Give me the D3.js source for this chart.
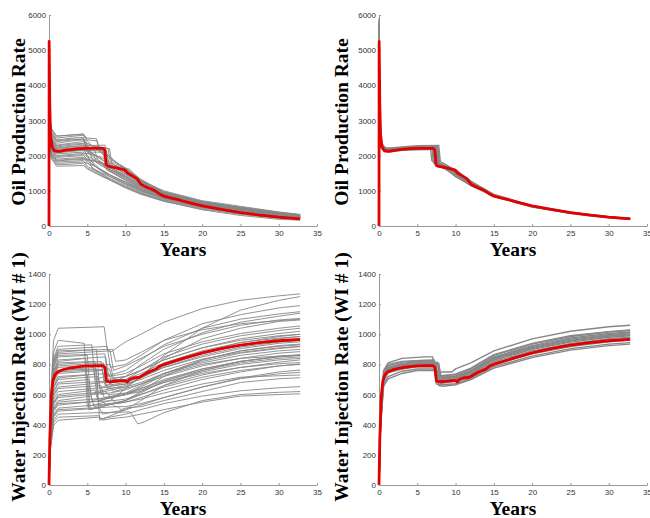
<!DOCTYPE html>
<html>
<head>
<meta charset="utf-8">
<script src="https://cdn.jsdelivr.net/npm/d3@7"></script>
<style>
    body { margin: 0; background: #fff; }
    svg { display: block; }
    .tick text { font-family: Arial, "Liberation Sans", sans-serif; font-size: 8px; fill: #333; }
    .domain, .tick line { stroke: #999; }
    .lab { font-family: "Liberation Serif", "Times New Roman", serif; font-weight: bold; font-size: 19.5px; fill: #000; }
</style>
</head>
<body>
<div id="chart-div"></div>
<script>
//---------------------------------//
// Data                            //
//---------------------------------//

const xTicks = [0, 5, 10, 15, 20, 25, 30, 35];
const oilTicks = [0, 1000, 2000, 3000, 4000, 5000, 6000];
const wiTicks = [0, 200, 400, 600, 800, 1000, 1200, 1400];

const xLabel = 'Years';
const oilLabel = 'Oil Production Rate';
const wiLabel = 'Water Injection Rate (WI # 1)';

// red reference curves [year, rate]
const oilRef = [[0,0],[0.02,5250],[0.1,3500],[0.2,2600],[0.4,2250],[0.7,2140],[1.3,2120],[2,2150],[3,2180],[4,2200],[5,2210],[7.1,2210],[7.3,2150],[7.45,1750],[7.7,1700],[8.5,1670],[9.5,1620],[9.9,1590],[10.3,1500],[11,1410],[11.5,1340],[12,1190],[12.5,1130],[13,1080],[13.5,1040],[14,980],[14.5,900],[15,850],[16,790],[17,740],[18,680],[20,570],[22.5,470],[25,380],[27.5,310],[30,250],[32.8,205]];

const wiRef = [[0,0],[0.1,300],[0.3,590],[0.5,690],[0.8,735],[1.2,752],[2,768],[3,778],[4,785],[5,790],[7,792],[7.3,780],[7.5,690],[8,685],[9,690],[10,692],[10.2,684],[10.5,700],[11,710],[11.8,715],[12.3,730],[13,750],[14,770],[14.5,790],[15,800],[17.5,840],[20,877],[22.5,905],[25,928],[27.5,945],[30,957],[32.8,966]];

// grey ensemble runs, before matching (left)
const oilPrior = [
    [[0,5100],[0.1,3000],[0.35,2750],[1,2550],[3,2590],[4.5,2620],[5,2450],[6.3,2420],[6.6,2150],[8,1900],[10,1650],[12,1300],[15,1000],[20,720],[25,560],[30,400],[32.8,330]],
    [[0,5100],[0.1,3000],[0.35,2700],[1,2500],[3,2550],[4.5,2580],[5,2500],[6.2,2480],[6.5,2200],[7.5,2050],[10,1600],[12,1280],[15,980],[20,700],[25,540],[30,390],[32.8,320]],
    [[0,5100],[0.1,2950],[0.35,2650],[1,2450],[3,2500],[4.5,2520],[4.8,2200],[6,2000],[7.5,1800],[10,1500],[12,1250],[15,950],[20,680],[25,520],[30,380],[32.8,310]],
    [[0,5100],[0.1,2900],[0.35,2600],[1,2400],[3,2450],[4.5,2480],[5,2300],[7.7,2200],[8,1850],[10,1620],[12,1300],[15,960],[20,690],[25,520],[30,370],[32.8,305]],
    [[0,5100],[0.1,2900],[0.35,2550],[1,2350],[3,2420],[4.5,2450],[5,2150],[7,1900],[8,1650],[10,1400],[12,1150],[15,900],[20,640],[25,480],[30,350],[32.8,290]],
    [[0,5100],[0.1,2850],[0.35,2500],[1,2300],[3,2360],[4.5,2400],[5.5,2300],[7.9,2200],[8.2,1780],[10,1550],[12,1250],[15,930],[20,660],[25,500],[30,360],[32.8,300]],
    [[0,5100],[0.1,2850],[0.35,2450],[1,2250],[3,2300],[4.5,2330],[5,2100],[6.5,1850],[8,1600],[10,1350],[12,1100],[15,850],[20,600],[25,440],[30,320],[32.8,270]],
    [[0,5100],[0.1,2800],[0.35,2400],[1,2200],[3,2250],[4.5,2280],[5.2,2250],[5.6,1900],[7,1700],[10,1300],[12,1080],[15,830],[20,590],[25,430],[30,310],[32.8,260]],
    [[0,5100],[0.1,2800],[0.35,2380],[1,2180],[3,2220],[4.5,2250],[6.8,2230],[7.2,1950],[8,1750],[10,1480],[12,1200],[15,900],[20,630],[25,470],[30,340],[32.8,280]],
    [[0,5100],[0.1,2750],[0.35,2350],[1,2150],[3,2180],[4.5,2200],[5,2000],[7,1750],[8,1550],[10,1330],[12,1100],[15,840],[20,600],[25,440],[30,320],[32.8,265]],
    [[0,5100],[0.1,2700],[0.35,2300],[1,2100],[3,2140],[4.5,2170],[5,2000],[6,1700],[8,1450],[10,1250],[12,1030],[15,800],[20,570],[25,410],[30,300],[32.8,250]],
    [[0,5100],[0.1,2700],[0.35,2280],[1,2080],[3,2120],[4.5,2150],[7.5,2150],[7.8,1800],[9.5,1650],[10.5,1620],[12,1300],[15,920],[20,650],[25,480],[30,350],[32.8,290]],
    [[0,5100],[0.1,2650],[0.35,2250],[1,2050],[3,2080],[4.5,2100],[5,1950],[6.5,1650],[8,1450],[10,1200],[12,1000],[15,780],[20,550],[25,400],[30,290],[32.8,240]],
    [[0,5100],[0.1,2600],[0.35,2200],[1,2000],[3,2040],[4.5,2060],[5.8,2050],[6.2,1800],[8,1600],[10,1380],[12,1120],[15,860],[20,610],[25,450],[30,330],[32.8,270]],
    [[0,5100],[0.1,2600],[0.35,2180],[1,1980],[3,2010],[4.5,2030],[5,1850],[7,1550],[8,1400],[10,1180],[12,980],[15,760],[20,540],[25,390],[30,280],[32.8,230]],
    [[0,5100],[0.1,2550],[0.35,2150],[1,1950],[3,1980],[4.5,2000],[5,1900],[7.5,1750],[8,1600],[10,1400],[12,1150],[15,870],[20,620],[25,460],[30,335],[32.8,275]],
    [[0,5100],[0.1,2500],[0.35,2100],[1,1900],[3,1930],[4.5,1950],[5,1800],[6,1600],[8,1350],[10,1150],[12,950],[15,740],[20,520],[25,370],[30,260],[32.8,215]],
    [[0,5100],[0.1,2500],[0.35,2070],[1,1870],[3,1900],[4.5,1920],[5.3,1880],[5.6,1650],[7,1500],[10,1220],[12,1010],[15,790],[20,560],[25,410],[30,300],[32.8,245]],
    [[0,5100],[0.1,2450],[0.35,2020],[1,1820],[3,1840],[4.5,1860],[5,1700],[7,1450],[8,1320],[10,1100],[12,920],[15,720],[20,500],[25,350],[30,240],[32.8,200]],
    [[0,5100],[0.1,2400],[0.35,1980],[1,1780],[3,1800],[4.5,1820],[5,1780],[6,1700],[7,1550],[8,1450],[10,1250],[12,1050],[15,800],[20,570],[25,420],[30,305],[32.8,250]],
    [[0,5100],[0.1,2400],[0.35,1940],[1,1740],[3,1760],[4.5,1780],[5,1650],[7,1420],[8,1300],[10,1080],[12,900],[15,700],[20,480],[25,330],[30,220],[32.8,180]],
    [[0,5100],[0.1,2350],[0.35,1900],[1,1700],[3,1710],[4.5,1720],[5,1620],[7,1400],[10,1120],[12,930],[15,710],[20,460],[25,300],[30,190],[32.8,165]],
    [[0,5100],[0.1,2850],[0.35,2480],[1,2280],[3,2330],[4.7,2350],[5,2100],[7.5,2100],[7.7,1700],[10,1450],[12,1180],[15,880],[20,620],[25,460],[30,335],[32.8,280]],
    [[0,5100],[0.1,2950],[0.35,2620],[1,2420],[3,2470],[4.8,2450],[5.2,2050],[7,1950],[8,1700],[10,1500],[12,1200],[15,920],[20,650],[25,490],[30,360],[32.8,300]],
    [[0,5100],[0.1,2800],[0.35,2420],[1,2220],[3,2270],[7.3,2300],[7.5,2050],[8.8,1800],[10,1650],[12,1330],[15,950],[20,680],[25,510],[30,370],[32.8,310]],
    [[0,5100],[0.1,2700],[0.35,2320],[1,2120],[3,2160],[6,2150],[6.3,1900],[8,1650],[10,1420],[12,1150],[15,860],[20,610],[25,450],[30,325],[32.8,270]],
    [[0,5100],[0.1,3050],[0.35,2760],[1,2560],[3,2590],[4.5,2600],[4.7,2500],[5.5,2300],[7,2050],[8,1800],[10,1550],[12,1250],[15,950],[20,680],[25,520],[30,380],[32.8,320]],
    [[0,5100],[0.1,2450],[0.35,2050],[1,1850],[3,1880],[4.5,1890],[7,1800],[7.5,1600],[10,1300],[12,1050],[15,810],[20,575],[25,420],[30,300],[32.8,245]]
];

// grey ensemble runs, after matching (right)
const oilPost = [
    [[0,5900],[0.1,3200],[0.3,2350],[0.8,2220],[1.5,2190],[3,2230],[5,2260],[6.9,2280],[7.1,1810],[8,1720],[10,1500],[12,1200],[13.5,1050],[15,880],[20,560],[25,380],[30,250],[32.8,205]],
    [[0,5600],[0.1,3100],[0.3,2300],[0.8,2180],[1.5,2160],[3,2200],[5,2230],[7.5,2240],[7.7,1800],[8.5,1710],[10,1610],[11,1430],[12,1280],[15,880],[20,570],[25,390],[30,260],[32.8,215]],
    [[0,5400],[0.1,3000],[0.3,2250],[0.8,2150],[1.5,2130],[3,2170],[5,2190],[7,2200],[7.2,1780],[8,1700],[10,1450],[12,1180],[15,860],[20,545],[25,370],[30,245],[32.8,200]],
    [[0,5700],[0.1,3150],[0.3,2350],[0.8,2230],[1.5,2220],[3,2250],[5,2280],[7.8,2290],[8,1830],[9,1710],[10,1560],[12,1260],[15,900],[20,580],[25,395],[30,262],[32.8,218]],
    [[0,5300],[0.1,2950],[0.3,2200],[0.8,2120],[1.5,2110],[3,2150],[5,2170],[7.2,2180],[7.4,1700],[8.5,1650],[10,1420],[12,1150],[15,845],[20,540],[25,360],[30,235],[32.8,190]],
    [[0,5800],[0.1,3100],[0.3,2300],[0.8,2200],[1.5,2190],[3,2220],[5,2250],[6.7,2250],[6.9,1860],[8,1740],[10,1520],[12,1220],[15,880],[20,565],[25,385],[30,255],[32.8,210]],
    [[0,5500],[0.1,3000],[0.3,2270],[0.8,2190],[1.5,2170],[3,2230],[5,2260],[7.6,2270],[7.8,1760],[9,1660],[10,1480],[12,1200],[15,870],[20,555],[25,378],[30,248],[32.8,205]],
    [[0,5200],[0.1,2950],[0.3,2230],[0.8,2150],[1.5,2140],[3,2180],[5,2210],[7.4,2220],[7.6,1740],[8.5,1680],[10,1400],[12,1170],[15,855],[20,550],[25,375],[30,245],[32.8,200]],
    [[0,5600],[0.1,3050],[0.3,2280],[0.8,2200],[1.5,2180],[3,2210],[5,2230],[7,2230],[7.2,1800],[8,1720],[10,1550],[12,1250],[15,890],[20,570],[25,388],[30,258],[32.8,212]],
    [[0,5300],[0.1,2950],[0.3,2220],[0.8,2140],[1.5,2130],[3,2190],[5,2200],[7.7,2210],[7.9,1790],[9,1690],[10,1580],[12,1230],[15,870],[20,560],[25,380],[30,250],[32.8,207]]
];

const wiPrior = [
    [[0,0],[0.2,570],[0.6,960],[1.2,1040],[7.2,1050],[7.6,900],[8,880],[10,950],[12,1000],[15,1080],[20,1170],[25,1225],[30,1255],[32.8,1268]],
    [[0,0],[0.2,530],[0.6,880],[1.2,960],[4.6,940],[5,520],[8,560],[10,640],[12,720],[15,860],[20,1040],[25,1160],[30,1225],[32.8,1250]],
    [[0,0],[0.2,500],[0.6,830],[1.2,900],[7.6,920],[8,780],[10,800],[12,860],[15,960],[20,1070],[25,1130],[30,1175],[32.8,1190]],
    [[0,0],[0.2,480],[0.6,810],[1.2,880],[6.2,900],[6.6,640],[10,720],[12,800],[15,900],[20,1010],[25,1080],[30,1120],[32.8,1140]],
    [[0,0],[0.2,480],[0.6,800],[1.2,870],[8,890],[8.4,760],[10,790],[12,840],[15,920],[20,1000],[25,1060],[30,1095],[32.8,1105]],
    [[0,0],[0.2,470],[0.6,780],[1.2,850],[5,860],[5.4,600],[10,650],[12,720],[15,840],[20,970],[25,1040],[30,1085],[32.8,1095]],
    [[0,0],[0.2,460],[0.6,760],[1.2,830],[7.4,850],[7.8,720],[10,740],[12,790],[15,870],[20,950],[25,1005],[30,1040],[32.8,1055]],
    [[0,0],[0.2,440],[0.6,740],[1.2,800],[6.8,820],[7.2,680],[10,700],[12,760],[15,850],[20,935],[25,990],[30,1025],[32.8,1040]],
    [[0,0],[0.2,430],[0.6,720],[1.2,780],[8,800],[8.4,710],[10,720],[12,760],[15,830],[20,910],[25,970],[30,1005],[32.8,1020]],
    [[0,0],[0.2,420],[0.6,700],[1.2,760],[5.8,780],[6.2,620],[10,660],[12,710],[15,790],[20,880],[25,945],[30,985],[32.8,1000]],
    [[0,0],[0.2,410],[0.6,680],[1.2,740],[7,760],[7.4,660],[10,680],[12,720],[15,790],[20,870],[25,930],[30,970],[32.8,985]],
    [[0,0],[0.2,400],[0.6,660],[1.2,720],[7.8,740],[8.2,680],[10,690],[12,720],[15,780],[20,850],[25,905],[30,940],[32.8,950]],
    [[0,0],[0.2,385],[0.6,645],[1.2,700],[6.4,720],[6.8,600],[10,630],[12,670],[15,740],[20,830],[25,890],[30,925],[32.8,935]],
    [[0,0],[0.2,375],[0.6,625],[1.2,680],[5.2,700],[5.6,560],[10,610],[12,660],[15,740],[20,820],[25,875],[30,905],[32.8,918]],
    [[0,0],[0.2,360],[0.6,600],[1.2,650],[7.2,680],[7.6,640],[10,650],[12,680],[15,740],[20,810],[25,860],[30,890],[32.8,900]],
    [[0,0],[0.2,340],[0.6,570],[1.2,620],[8,650],[8.4,620],[10,640],[12,670],[15,720],[20,790],[25,840],[30,875],[32.8,885]],
    [[0,0],[0.2,330],[0.6,550],[1.2,600],[6,630],[6.4,560],[10,600],[12,640],[15,700],[20,770],[25,820],[30,852],[32.8,862]],
    [[0,0],[0.2,320],[0.6,535],[1.2,580],[7.6,610],[8,580],[10,600],[12,620],[15,680],[20,750],[25,800],[30,830],[32.8,840]],
    [[0,0],[0.2,310],[0.6,515],[1.2,560],[5.5,590],[5.9,520],[10,560],[12,600],[15,660],[20,730],[25,780],[30,815],[32.8,830]],
    [[0,0],[0.2,290],[0.6,490],[1.2,530],[7,560],[7.4,530],[10,550],[12,580],[15,630],[20,700],[25,750],[30,790],[32.8,803]],
    [[0,0],[0.2,280],[0.6,470],[1.2,510],[8.2,540],[8.6,520],[10,520],[12,540],[15,580],[20,650],[25,710],[30,750],[32.8,763]],
    [[0,0],[0.2,270],[0.6,450],[1.2,490],[6.6,510],[7,470],[10,500],[12,530],[15,580],[20,650],[25,705],[30,738],[32.8,748]],
    [[0,0],[0.2,260],[0.6,430],[1.2,470],[5,478],[10.6,485],[11.6,405],[12.5,420],[15,480],[20,560],[25,600],[30,615],[32.8,620]],
    [[0,0],[0.2,250],[0.6,415],[1.2,450],[6.5,460],[7,430],[8,440],[10,450],[12,470],[15,500],[20,550],[25,590],[30,600],[32.8,605]],
    [[0,0],[0.2,235],[0.6,395],[1.2,430],[6.5,450],[6.9,440],[10,470],[12,500],[15,540],[20,590],[25,625],[30,645],[32.8,653]],
    [[0,0],[0.2,450],[0.6,755],[1.2,820],[4.8,840],[5.2,500],[10,560],[12,620],[15,720],[20,830],[25,890],[30,920],[32.8,930]],
    [[0,0],[0.2,420],[0.6,700],[1.2,760],[6.2,770],[6.6,430],[10,500],[12,560],[15,660],[20,760],[25,820],[30,855],[32.8,865]],
    [[0,0],[0.2,490],[0.6,820],[1.2,890],[8.3,900],[8.7,820],[10,830],[12,880],[15,960],[20,1030],[25,1070],[30,1090],[32.8,1100]],
    [[0,0],[0.2,470],[0.6,790],[1.2,860],[7.3,870],[7.7,700],[10,720],[12,760],[15,830],[20,910],[25,960],[30,990],[32.8,1000]],
    [[0,0],[0.2,390],[0.6,655],[1.2,710],[5,730],[5.4,500],[10,560],[12,610],[15,690],[20,770],[25,820],[30,850],[32.8,860]],
    [[0,0],[0.2,410],[0.6,690],[1.2,750],[7.9,770],[8.3,700],[10,700],[12,740],[15,810],[20,890],[25,945],[30,975],[32.8,985]],
    [[0,0],[0.2,350],[0.6,590],[1.2,640],[6.8,660],[7.2,580],[10,600],[12,630],[15,680],[20,740],[25,780],[30,805],[32.8,812]],
    [[0,0],[0.2,325],[0.6,545],[1.2,590],[7.4,620],[7.8,600],[10,610],[12,640],[15,690],[20,760],[25,810],[30,840],[32.8,850]],
    [[0,0],[0.2,300],[0.6,505],[1.2,550],[8,580],[8.4,560],[10,570],[12,600],[15,650],[20,715],[25,760],[30,790],[32.8,800]],
    [[0,0],[0.2,435],[0.6,725],[1.2,790],[7.1,810],[7.5,650],[10,670],[12,710],[15,780],[20,860],[25,915],[30,948],[32.8,958]],
    [[0,0],[0.2,370],[0.6,615],[1.2,670],[7.7,690],[8.1,660],[10,670],[12,700],[15,760],[20,835],[25,880],[30,910],[32.8,920]],
    [[0,0],[0.2,505],[0.6,845],[1.2,920],[5.6,930],[6,700],[10,760],[12,830],[15,930],[20,1040],[25,1100],[30,1135],[32.8,1150]],
    [[0,0],[0.2,275],[0.6,460],[1.2,500],[9,520],[9.4,500],[10,510],[12,520],[15,560],[20,620],[25,680],[30,705],[32.8,712]],
    [[0,0],[0.2,295],[0.6,495],[1.2,540],[8.5,560],[8.9,540],[10,550],[12,570],[15,610],[20,670],[25,715],[30,725],[32.8,730]],
    [[0,0],[0.2,445],[0.6,745],[1.2,810],[6,820],[6.4,560],[10,600],[12,650],[15,730],[20,800],[25,840],[30,855],[32.8,860]]
];

const wiPost = [
    [[0,0],[0.2,450],[0.6,760],[1.2,810],[3,840],[6,850],[7,850],[7.4,760],[8,750],[9.5,750],[10,770],[12,810],[15,890],[20,970],[25,1020],[30,1050],[32.8,1060]],
    [[0,0],[0.2,440],[0.6,750],[1.2,800],[3,820],[6,828],[7.2,830],[7.6,730],[8,720],[10,735],[12,775],[15,865],[20,940],[25,990],[30,1018],[32.8,1028]],
    [[0,0],[0.2,430],[0.6,735],[1.2,790],[3,815],[5,825],[7,825],[7.5,740],[8,725],[10,735],[12,770],[15,860],[20,935],[25,985],[30,1015],[32.8,1025]],
    [[0,0],[0.2,425],[0.6,725],[1.2,780],[3,805],[5,815],[7.6,815],[7.9,730],[8.3,715],[10,725],[12,760],[15,850],[20,925],[25,975],[30,1005],[32.8,1015]],
    [[0,0],[0.2,420],[0.6,715],[1.2,770],[3,800],[5,810],[7.2,810],[7.5,710],[8,700],[10,715],[12,750],[15,840],[20,912],[25,960],[30,992],[32.8,1003]],
    [[0,0],[0.2,415],[0.6,705],[1.2,760],[3,790],[5,800],[7.7,800],[8,700],[8.5,690],[10,705],[12,740],[15,828],[20,900],[25,948],[30,980],[32.8,990]],
    [[0,0],[0.2,410],[0.6,700],[1.2,755],[3,780],[5,795],[7.4,795],[7.7,695],[8.2,685],[10,700],[12,732],[15,818],[20,890],[25,938],[30,970],[32.8,980]],
    [[0,0],[0.2,405],[0.6,695],[1.2,750],[3,775],[5,790],[7.5,790],[7.8,690],[8.3,680],[10,695],[12,725],[15,810],[20,880],[25,928],[30,960],[32.8,972]],
    [[0,0],[0.2,400],[0.6,690],[1.2,745],[3,770],[5,785],[7.3,785],[7.6,685],[8.1,675],[10,690],[12,720],[15,800],[20,870],[25,918],[30,950],[32.8,962]],
    [[0,0],[0.2,390],[0.6,670],[1.2,720],[3,755],[5,770],[7.2,770],[7.5,670],[8,665],[10,672],[12,710],[15,785],[20,855],[25,905],[30,935],[32.8,945]],
    [[0,0],[0.2,380],[0.6,655],[1.2,705],[3,740],[5,760],[7.5,760],[7.8,660],[8.3,655],[10,665],[12,700],[15,775],[20,845],[25,895],[30,925],[32.8,935]],
    [[0,0],[0.2,420],[0.6,710],[1.2,765],[3,795],[5,805],[7.8,808],[8.1,720],[8.5,705],[10,712],[12,748],[15,835],[20,905],[25,955],[30,987],[32.8,997]],
    [[0,0],[0.2,428],[0.6,720],[1.2,775],[3,805],[5,818],[7.1,820],[7.4,720],[8,708],[10,720],[12,755],[15,845],[20,918],[25,968],[30,998],[32.8,1010]]
];

//---------------------------------//
// Chart Object                    //
//---------------------------------//

window.Chart = window.Chart || {};

Chart.init = function() {
    Chart.setup.initConsts();
    Chart.setup.initSvg();

    Chart.panels.forEach(Chart.core.drawPanel);
};

Chart.core = {
    drawPanel: function(p) {
        let x = d3.scaleLinear().domain([0, 35]).range([p.left, p.right]);
        let y = d3.scaleLinear().domain([0, p.yTicks[p.yTicks.length - 1]]).range([p.bottom, p.top]);

        let g = Chart.svg.append('g');

        // axes, ticks point inward like matlab
        g.append('g')
            .attr('transform', 'translate(0,' + p.bottom + ')')
            .call(d3.axisBottom(x).tickValues(xTicks).tickFormat(d3.format('d'))
                    .tickSizeInner(-2).tickSizeOuter(0).tickPadding(4));
        g.append('g')
            .attr('transform', 'translate(' + p.left + ',0)')
            .call(d3.axisLeft(y).tickValues(p.yTicks).tickFormat(d3.format('d'))
                    .tickSizeInner(-2).tickSizeOuter(0).tickPadding(3));

        let line = d3.line()
                     .x(d => x(d[0]))
                     .y(d => y(d[1]));

        g.append('g').selectAll('path')
            .data(p.runs)
            .join('path')
             .attr('d', line)
             .attr('fill', 'none')
             .attr('stroke', Chart.grey)
             .attr('stroke-width', p.runWidth);

        g.append('path')
            .attr('d', line(p.ref))
            .attr('fill', 'none')
            .attr('stroke', Chart.red)
            .attr('stroke-width', 2.8)
            .attr('stroke-linejoin', 'round');

        // labels
        g.append('text')
            .attr('class', 'lab')
            .attr('text-anchor', 'middle')
            .attr('transform', 'translate(' + p.labX + ',' + p.labY + ') rotate(-90)')
            .text(p.yLabel);

        g.append('text')
            .attr('class', 'lab')
            .attr('text-anchor', 'middle')
            .attr('x', (p.left + p.right) / 2)
            .attr('y', p.bottom + 30)
            .text(xLabel);
    }
};

Chart.setup = {
    initConsts: function() {
        Chart.width = 650;
        Chart.height = 518;

        Chart.grey = '#878787';
        Chart.red = '#e30000';

        Chart.panels = [
            {left: 49, right: 317, top: 15, bottom: 226, yTicks: oilTicks, runs: oilPrior, ref: oilRef,
             yLabel: oilLabel, labX: 25, labY: 122, runWidth: 0.9},
            {left: 379, right: 647, top: 15, bottom: 226, yTicks: oilTicks, runs: oilPost, ref: oilRef,
             yLabel: oilLabel, labX: 348, labY: 122, runWidth: 1.4},
            {left: 49, right: 317, top: 274, bottom: 485, yTicks: wiTicks, runs: wiPrior, ref: wiRef,
             yLabel: wiLabel, labX: 25, labY: 377, runWidth: 0.9},
            {left: 379, right: 647, top: 274, bottom: 485, yTicks: wiTicks, runs: wiPost, ref: wiRef,
             yLabel: wiLabel, labX: 348, labY: 377, runWidth: 1.4}
        ];
    },

    initSvg: function() {
        Chart.svg = d3.select('#chart-div')
                      .append('svg')
                       .attr('width', Chart.width)
                       .attr('height', Chart.height);
    }
};

document.addEventListener('DOMContentLoaded', Chart.init);
</script>
</body>
</html>
